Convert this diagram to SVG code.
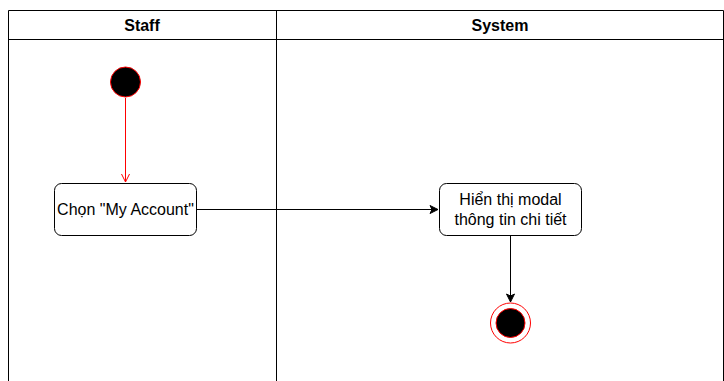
<svg xmlns="http://www.w3.org/2000/svg" width="724" height="381" viewBox="0 0 724 381">
<defs>
<style>
.lane{fill:none;stroke:#000;stroke-width:1}
.hdr{font-family:"Liberation Sans",Arial,sans-serif;font-size:16px;font-weight:bold;fill:#000;text-anchor:middle}
.act{fill:#fff;stroke:#000;stroke-width:1}
.lbl{font-family:"Liberation Sans",Arial,sans-serif;font-size:16px;fill:#000;text-anchor:middle}
</style>
<marker id="ar" viewBox="0 0 10 10" refX="9" refY="5" markerWidth="10" markerHeight="10" orient="auto" markerUnits="userSpaceOnUse"><path d="M1,1 L9,5 L1,9 L3,5 Z" fill="#000" stroke="#000"/></marker>
<marker id="arr" viewBox="0 0 10 10" refX="9" refY="5" markerWidth="10" markerHeight="10" orient="auto" markerUnits="userSpaceOnUse"><path d="M1,1 L9,5 L1,9" fill="none" stroke="#ff0000"/></marker>
</defs>
<rect width="724" height="381" fill="#fff"/>
<g id="pool">
<path class="lane" d="M8.5,381 V10.5 H723.5 V381 M8.5,39.5 H723.5 M276.5,10.5 V381"/>
<text class="hdr" x="142" y="30.5">Staff</text>
<text class="hdr" x="500" y="30.5">System</text>
</g>
<g id="connectors">
<line x1="125.5" y1="98" x2="125.5" y2="182" stroke="#ff0000" stroke-width="1" marker-end="url(#arr)"/>
<line x1="197" y1="209.5" x2="438" y2="209.5" stroke="#000" stroke-width="1" marker-end="url(#ar)"/>
<line x1="510.5" y1="236" x2="510.5" y2="302" stroke="#000" stroke-width="1" marker-end="url(#ar)"/>
</g>
<g id="start">
<circle cx="125.5" cy="82" r="15" fill="#000" stroke="#ff0000" stroke-width="1"/>
</g>
<g id="chon">
<rect class="act" x="54.5" y="183.5" width="142" height="52" rx="7"/>
<text class="lbl" x="125.5" y="215">Chọn "My Account"</text>
</g>
<g id="hienthi">
<rect class="act" x="439.5" y="183.5" width="142" height="52" rx="7"/>
<text class="lbl" x="510.5" y="205">Hiển thị modal</text>
<text class="lbl" x="510.5" y="225">thông tin chi tiết</text>
</g>
<g id="end">
<circle cx="510.5" cy="323" r="20" fill="#fff" stroke="#ff0000" stroke-width="1"/>
<circle cx="510.5" cy="323" r="14.5" fill="#000" stroke="#ff0000" stroke-width="1"/>
</g>
</svg>
